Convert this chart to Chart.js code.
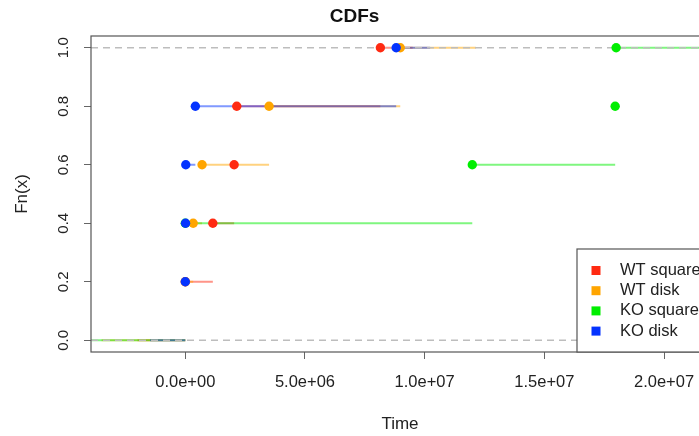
<!DOCTYPE html>
<html>
<head>
<meta charset="utf-8">
<script src="https://cdn.jsdelivr.net/npm/chart.js@4.4.1/dist/chart.umd.min.js"></script>
<style>
  html, body { margin: 0; padding: 0; background: #fff; overflow: hidden; }
  #wrap { width: 800px; height: 436px; }
</style>
</head>
<body>
<div id="wrap"><canvas id="cdf" width="800" height="436"></canvas></div>
<script>
// observations per group (time values)
const seriesNames = ['WT square', 'WT disk', 'KO square', 'KO disk'];
const wtSquare = [0, 1.15e6, 2.04e6, 2.15e6, 8.15e6];
const wtDisk = [0, 0.33e6, 0.70e6, 3.50e6, 8.98e6];
const koSquare = [0, 0, 1.199e7, 1.796e7, 1.800e7];
const koDisk = [0, 0.01e6, 0.02e6, 0.42e6, 8.81e6];
// where each step function's first / last flat piece starts / stops
const headStarts = [-2.0e6, -3.5e6, -4.5e6, -1.47e6];
const tailEnds = [9.5e6, 1.215e7, 2.4e7, 1.023e7];

const xTicks = [0, 5e6, 1e7, 1.5e7, 2e7];
const xTickLabels = ['0.0e+00', '5.0e+06', '1.0e+07', '1.5e+07', '2.0e+07'];
const yTicks = [0, 0.2, 0.4, 0.6, 0.8, 1];
const yTickLabels = ['0.0', '0.2', '0.4', '0.6', '0.8', '1.0'];
const xRange = [-3.94e6, 2.188e7];
const yRange = [-0.04, 1.04];

const allSeries = [wtSquare, wtDisk, koSquare, koDisk];
const pointColors = ['#ff2a12', '#ffa500', '#00ee00', '#0433ff'];
const lineColors = ['rgba(255,42,18,0.5)', 'rgba(255,165,0,0.5)', 'rgba(0,238,0,0.5)', 'rgba(4,51,255,0.5)'];
const FONT = "'Liberation Sans', Arial, Helvetica, sans-serif";

// empirical cdf: jump points and flat pieces
function ecdf(values, head, tail) {
    const xs = values.slice().sort((a, b) => a - b);
    const n = xs.length;
    const pts = [];
    for (let i = 0; i < n; i++) {
        if (i < n - 1 && xs[i + 1] === xs[i]) continue;
        pts.push({ x: xs[i], y: (i + 1) / n });
    }
    const segs = [{ x: head, y: 0 }, { x: pts[0].x, y: 0 }, { x: pts[0].x, y: null }];
    pts.forEach((p, k) => {
        const end = k < pts.length - 1 ? pts[k + 1].x : tail;
        segs.push({ x: p.x, y: p.y }, { x: end, y: p.y }, { x: end, y: null });
    });
    return { pts, segs };
}

const datasets = [];
allSeries.forEach((vals, i) => {
    const e = ecdf(vals, headStarts[i], tailEnds[i]);
    datasets.push({
        type: 'line',
        label: seriesNames[i] + ' steps',
        data: e.segs,
        borderColor: lineColors[i],
        borderWidth: 2,
        pointRadius: 0,
        spanGaps: false,
        order: 23 - i
    });
    datasets.push({
        type: 'scatter',
        label: seriesNames[i],
        data: e.pts,
        backgroundColor: pointColors[i],
        borderWidth: 0,
        pointRadius: 4.7,
        order: 3 - i
    });
});
// dashed reference lines at 0 and 1
datasets.push({
    type: 'line',
    label: 'ref',
    data: [
        { x: xRange[0], y: 0 }, { x: xRange[1], y: 0 }, { x: xRange[1], y: null },
        { x: xRange[0], y: 1 }, { x: xRange[1], y: 1 }
    ],
    borderColor: '#bdbdbd',
    borderWidth: 1.5,
    borderDash: [7, 5],
    pointRadius: 0,
    spanGaps: false,
    order: 10
});

const frameAndLegend = {
    id: 'frameAndLegend',
    afterDatasetsDraw(chart) {
        const { ctx, chartArea: a } = chart;
        ctx.save();
        ctx.strokeStyle = '#555';
        ctx.lineWidth = 1.2;
        ctx.strokeRect(a.left, a.top, a.right - a.left, a.bottom - a.top);

        const w = 132, h = 103;
        const left = a.right - w, top = a.bottom - h;
        ctx.fillStyle = '#fff';
        ctx.fillRect(left, top, w, h);
        ctx.strokeRect(left, top, w, h);
        ctx.font = '16.5px ' + FONT;
        ctx.textBaseline = 'middle';
        seriesNames.forEach((name, i) => {
            const y = top + 21.5 + i * 20.2;
            ctx.fillStyle = pointColors[i];
            ctx.fillRect(left + 14.5, y - 4.5, 9, 9);
            ctx.fillStyle = '#222';
            ctx.fillText(name, left + 43, y);
        });
        ctx.restore();
    }
};

new Chart(document.getElementById('cdf'), {
    data: { datasets },
    options: {
        responsive: false,
        animation: false,
        devicePixelRatio: 1,
        layout: { padding: { left: 0, right: 91, top: 0, bottom: 0 } },
        plugins: {
            legend: { display: false },
            tooltip: { enabled: false },
            title: {
                display: true,
                text: 'CDFs',
                color: '#111',
                font: { family: FONT, size: 19, weight: 'bold' },
                padding: { top: 5, bottom: 8.2 }
            }
        },
        scales: {
            x: {
                type: 'linear',
                min: xRange[0],
                max: xRange[1],
                afterBuildTicks: s => { s.ticks = xTicks.map(v => ({ value: v })); },
                afterFit: s => { s.height = 84; },
                ticks: {
                    callback: (v, i) => xTickLabels[i],
                    autoSkip: false,
                    minRotation: 0,
                    maxRotation: 0,
                    padding: 14,
                    color: '#222',
                    font: { family: FONT, size: 16.5 }
                },
                grid: { drawOnChartArea: false, tickLength: 7, color: '#666' },
                border: { display: false },
                title: {
                    display: true,
                    text: 'Time',
                    color: '#222',
                    font: { family: FONT, size: 17 },
                    padding: { top: 0, bottom: 1 }
                }
            },
            y: {
                type: 'linear',
                min: yRange[0],
                max: yRange[1],
                afterBuildTicks: s => { s.ticks = yTicks.map(v => ({ value: v })); },
                afterFit: s => { s.width = 91; },
                ticks: {
                    callback: (v, i) => yTickLabels[i],
                    minRotation: 90,
                    maxRotation: 90,
                    crossAlign: 'center',
                    padding: 10,
                    color: '#222',
                    font: { family: FONT, size: 15 }
                },
                grid: { drawOnChartArea: false, tickLength: 7, color: '#666' },
                border: { display: false },
                title: {
                    display: true,
                    text: 'Fn(x)',
                    color: '#222',
                    font: { family: FONT, size: 17 },
                    padding: { top: 12, bottom: 0 }
                }
            }
        }
    },
    plugins: [frameAndLegend]
});
</script>
</body>
</html>
